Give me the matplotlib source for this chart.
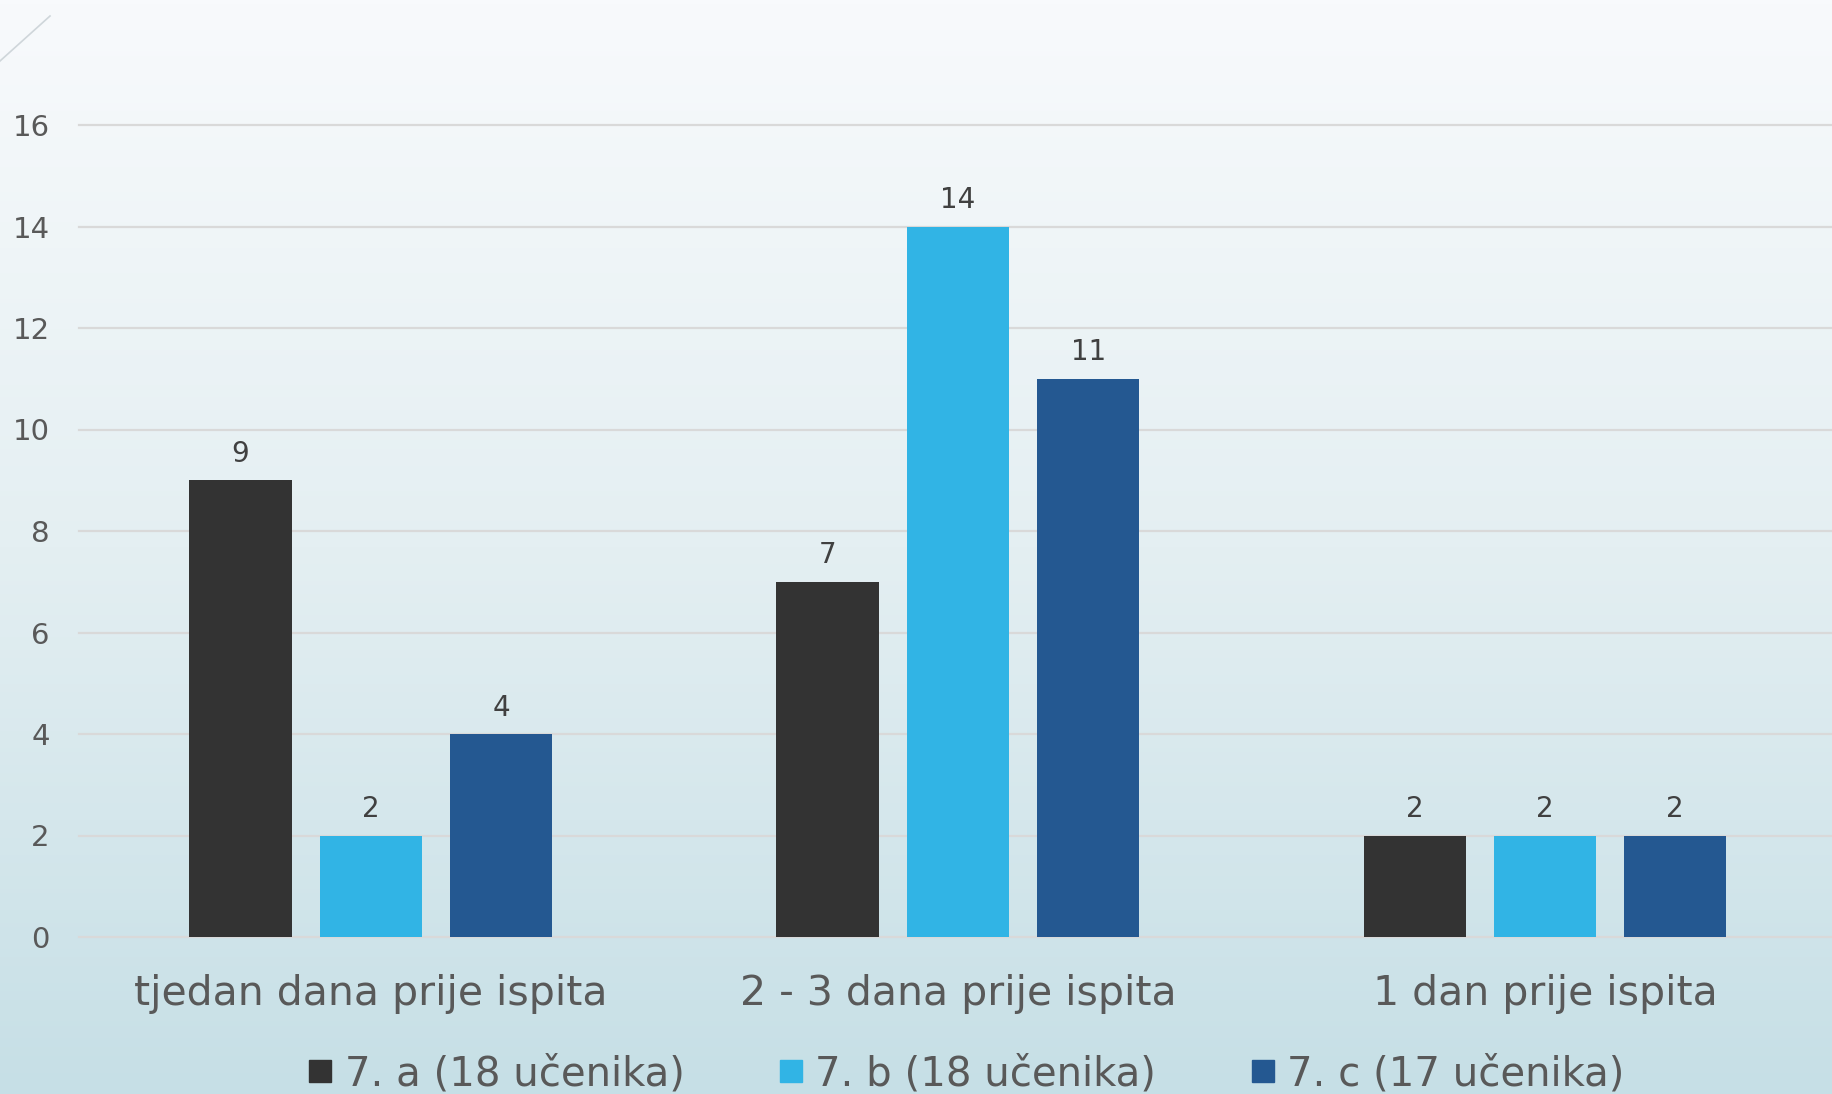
import matplotlib.pyplot as plt
import numpy as np
from matplotlib.colors import LinearSegmentedColormap
from matplotlib.lines import Line2D

categories = ['tjedan dana prije ispita', '2 - 3 dana prije ispita', '1 dan prije ispita']
series_names = ['7. a (18 učenika)', '7. b (18 učenika)', '7. c (17 učenika)']
values_a = [9, 7, 2]
values_b = [2, 14, 2]
values_c = [4, 11, 2]
colors = ['#333333', '#31b4e5', '#245891']
yticks = [0, 2, 4, 6, 8, 10, 12, 14, 16]

plt.rcParams['font.family'] = ['DejaVu Sans']
text_color = '#595959'

fig = plt.figure(figsize=(18.32, 10.94), dpi=100)

# background gradient
bg = fig.add_axes([0, 0, 1, 1], zorder=-10)
cmap = LinearSegmentedColormap.from_list('bg', ['#f8fafc', '#e4eff2', '#c6dfe6'])
grad = np.linspace(0, 1, 256).reshape(-1, 1)
bg.imshow(grad, aspect='auto', cmap=cmap, extent=[0, 1, 0, 1], origin='upper')
bg.plot([0, 0.0273], [1 - 61 / 1094, 1 - 16 / 1094], color='#cfd6da', lw=1.2)
bg.set_xlim(0, 1)
bg.set_ylim(0, 1)
bg.axis('off')

ax = fig.add_axes([79 / 1832, 1 - 937 / 1094, 1 - 79 / 1832, (937 - 125) / 1094])
ax.patch.set_alpha(0)

x = np.arange(len(categories))
width = 0.174
step = 0.222
for i, (vals, col) in enumerate(zip([values_a, values_b, values_c], colors)):
    bars = ax.bar(x + (i - 1) * step, vals, width, color=col, zorder=3)
    for b, v in zip(bars, vals):
        ax.annotate(str(v), (b.get_x() + b.get_width() / 2, v), xytext=(0, 9),
                    textcoords='offset points', ha='center', va='bottom',
                    fontsize=20, color='#404040')

for t in yticks:
    ax.axhline(t, color='#d9d9d9', lw=1.6, zorder=1, clip_on=False)

ax.set_xlim(-0.497, 2.489)
ax.set_ylim(0, 16)
ax.set_yticks(yticks)
ax.set_yticklabels([str(t) for t in yticks], fontsize=21, color=text_color)
ax.set_xticks(x)
ax.set_xticklabels(categories, fontsize=29.5, color=text_color)
ax.tick_params(axis='y', length=0, pad=21)
ax.tick_params(axis='x', length=0, pad=27)
for s in ax.spines.values():
    s.set_visible(False)

handles = [Line2D([], [], marker='s', color=c, lw=0, markersize=16) for c in colors]
fig.legend(handles, series_names, loc='center', bbox_to_anchor=(0.527, 0.018),
           ncol=3, frameon=False, fontsize=29, labelcolor=text_color,
           handlelength=0.7, handletextpad=0.25, columnspacing=2.3)

fig.savefig('out.png', dpi=100)
